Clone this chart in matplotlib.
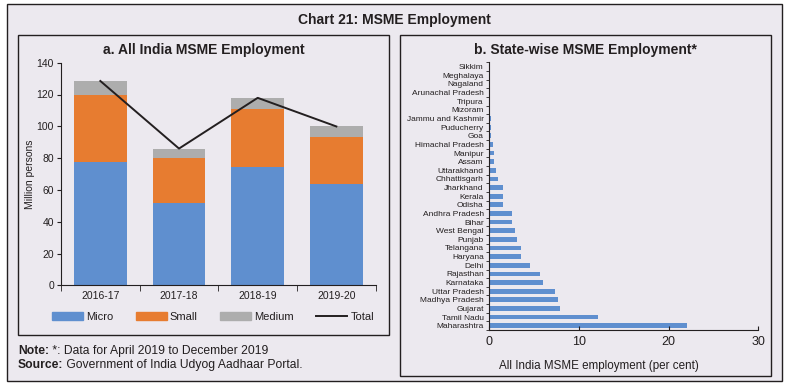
import matplotlib
matplotlib.use("Agg")
import matplotlib.pyplot as plt
from matplotlib.patches import Rectangle
from matplotlib.lines import Line2D
from matplotlib.ticker import FixedLocator
import numpy as np

plt.rcParams['font.family'] = ['Liberation Sans', 'DejaVu Sans']

# ---- Data ----
years = ["2016-17", "2017-18", "2018-19", "2019-20"]
micro = [77.4, 52.0, 74.4, 63.4]
small = [42.6, 27.9, 36.4, 30.0]
medium = [8.5, 6.1, 7.1, 6.5]
total = [128.5, 86.0, 117.9, 99.9]

states = ["Maharashtra", "Tamil Nadu", "Gujarat", "Madhya Pradesh", "Uttar Pradesh",
          "Karnataka", "Rajasthan", "Delhi", "Haryana", "Telangana", "Punjab",
          "West Bengal", "Bihar", "Andhra Pradesh", "Odisha", "Kerala", "Jharkhand",
          "Chhattisgarh", "Uttarakhand", "Assam", "Manipur", "Himachal Pradesh", "Goa",
          "Puducherry", "Jammu and Kashmir", "Mizoram", "Tripura", "Arunachal Pradesh",
          "Nagaland", "Meghalaya", "Sikkim"]
share = [22.0, 12.15, 7.9, 7.7, 7.3, 6.0, 5.6, 4.5, 3.57, 3.5, 3.1, 2.85, 2.53,
         2.53, 1.52, 1.52, 1.52, 0.93, 0.74, 0.52, 0.52, 0.37, 0.19, 0.19, 0.18,
         0.05, 0.05, 0.03, 0.02, 0.02, 0.01]

BG = "#ECE9EF"
C_MICRO = "#5F8FCF"
C_SMALL = "#E77C30"
C_MED = "#ADADAD"
TXT = "#231F20"

W, H = 788, 389
fig = plt.figure(figsize=(W / 100, H / 100), dpi=100)
fig.patch.set_facecolor("white")

def fx(px):
    return px / W

def fy(py):
    return 1 - py / H

def box(x0, y0, x1, y1, lw=1.0, fc=None):
    r = Rectangle((fx(x0), fy(y1)), fx(x1) - fx(x0), fy(y0) - fy(y1),
                  transform=fig.transFigure, fill=fc is not None,
                  facecolor=fc if fc else "none", edgecolor=TXT, linewidth=lw, zorder=0)
    fig.add_artist(r)

box(7, 4, 782, 381, lw=1.0, fc=BG)
box(18, 35, 389, 335, lw=1.0)
box(400, 35, 771, 376, lw=1.0)

fig.text(fx(394), fy(20), "Chart 21: MSME Employment", ha="center", va="center",
         fontsize=10, fontweight="bold", color=TXT)
fig.text(fx(204), fy(50), "a. All India MSME Employment", ha="center", va="center",
         fontsize=10, fontweight="bold", color=TXT)
fig.text(fx(585), fy(50), "b. State-wise MSME Employment*", ha="center", va="center",
         fontsize=10, fontweight="bold", color=TXT)

# ---- Left panel ----
axL = fig.add_axes([fx(61), fy(285.3), fx(375.7) - fx(61), fy(62.7) - fy(285.3)])
axL.set_facecolor("none")
x = np.arange(len(years))
bw = 0.67
axL.bar(x, micro, bw, color=C_MICRO, label="Micro")
axL.bar(x, small, bw, bottom=micro, color=C_SMALL, label="Small")
bot2 = [a + b for a, b in zip(micro, small)]
axL.bar(x, medium, bw, bottom=bot2, color=C_MED, label="Medium")
axL.plot(x, total, color=TXT, lw=1.4, label="Total")
axL.set_xlim(-0.5, 3.5)
axL.set_ylim(0, 140)
axL.set_yticks(range(0, 141, 20))
axL.set_xticks(x)
axL.set_xticklabels(years)
axL.xaxis.set_minor_locator(FixedLocator(np.arange(-0.5, 4.0, 1.0)))
axL.tick_params(axis="x", which="major", length=0, labelsize=7.5, colors=TXT, pad=4)
axL.tick_params(axis="x", which="minor", length=4, direction="out", color=TXT)
axL.tick_params(axis="y", length=3, direction="out", labelsize=7.5, colors=TXT, pad=2)
for s in ["top", "right"]:
    axL.spines[s].set_visible(False)
for s in ["left", "bottom"]:
    axL.spines[s].set_color(TXT)
    axL.spines[s].set_linewidth(0.8)
axL.set_ylabel("Million persons", fontsize=7.5, color=TXT, labelpad=1)
handles = [Rectangle((0, 0), 1, 1, color=C_MICRO), Rectangle((0, 0), 1, 1, color=C_SMALL),
           Rectangle((0, 0), 1, 1, color=C_MED), Line2D([0], [0], color=TXT, lw=1.4)]
leg = fig.legend(handles, ["Micro", "Small", "Medium", "Total"], loc="center",
                 bbox_to_anchor=(fx(213), fy(317)), ncol=4, frameon=False, fontsize=8,
                 handlelength=2.8, handleheight=0.65, columnspacing=2.0, handletextpad=0.3,
                 borderpad=0)
for t in leg.get_texts():
    t.set_color(TXT)

# Note / Source with bold lead-ins
fig.canvas.draw()
r = fig.canvas.get_renderer()
for ypx, lead, rest in [(351, "Note:", " *: Data for April 2019 to December 2019"),
                        (365, "Source:", " Government of India Udyog Aadhaar Portal.")]:
    t1 = fig.text(fx(18), fy(ypx), lead, ha="left", va="center", fontsize=8.7,
                  fontweight="bold", color=TXT)
    bb = t1.get_window_extent(renderer=r)
    fig.text(bb.x1 / fig.dpi / fig.get_figwidth(), fy(ypx), rest, ha="left", va="center",
             fontsize=8.7, color=TXT)

# ---- Right panel ----
axR = fig.add_axes([fx(489.3), fy(330), fx(758.3) - fx(489.3), fy(62.4) - fy(330)])
axR.set_facecolor("none")
y = np.arange(len(states))
axR.barh(y, share, 0.55, color=C_MICRO)
axR.set_ylim(-0.5, len(states) - 0.5)
axR.set_xlim(0, 30)
axR.set_xticks([0, 10, 20, 30])
axR.set_yticks(y)
axR.set_yticklabels(states)
axR.yaxis.set_minor_locator(FixedLocator(np.arange(-0.5, len(states), 1.0)))
axR.tick_params(axis="y", which="major", length=0, labelsize=6, colors=TXT, pad=4)
axR.tick_params(axis="y", which="minor", length=2.5, direction="out", color=TXT)
axR.tick_params(axis="x", length=3, direction="in", labelsize=9, colors=TXT, pad=4)
for s in ["top", "right"]:
    axR.spines[s].set_visible(False)
for s in ["left", "bottom"]:
    axR.spines[s].set_color(TXT)
    axR.spines[s].set_linewidth(0.8)
axR.set_xlabel("All India MSME employment (per cent)", fontsize=8.4, color=TXT)
axR.xaxis.set_label_coords((599 - 489.3) / (758.3 - 489.3), -(366 - 330) / (330 - 62.4))
axR.xaxis.label.set_va("center")

fig.savefig("out.png", dpi=100, facecolor=fig.get_facecolor())
